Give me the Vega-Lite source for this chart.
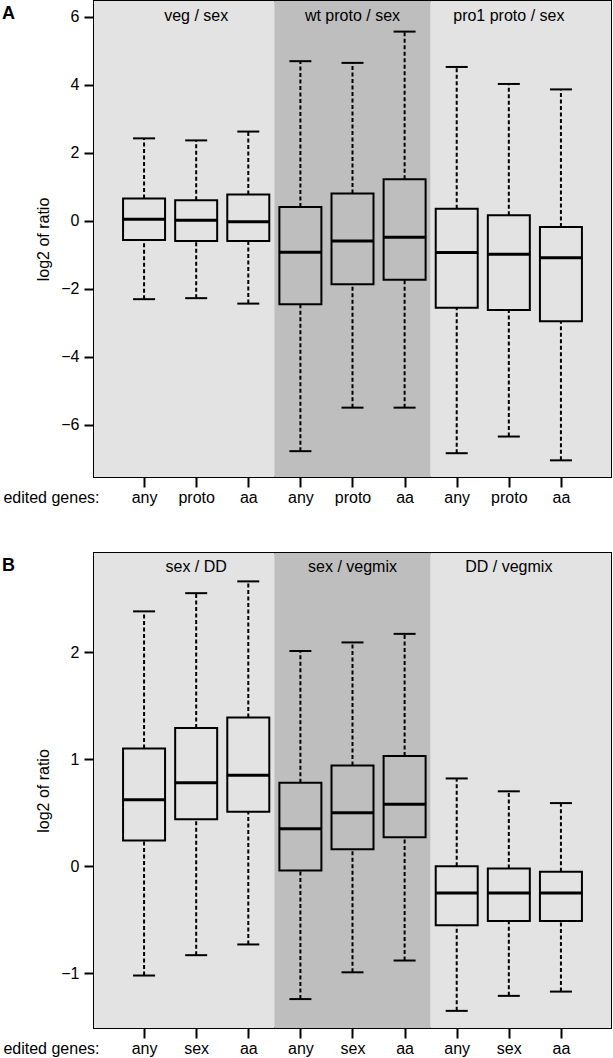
{
  "$schema": "https://vega.github.io/schema/vega-lite/v6.json",
  "padding": {"left": 1, "top": 0, "right": 0, "bottom": 0},
  "spacing": 46,
  "config": {
    "font": "Liberation Sans",
    "view": {"stroke": "black", "strokeWidth": 2},
    "axis": {"grid": false, "domain": false, "tickColor": "black", "tickWidth": 2, "tickSize": 10, "labelColor": "black", "labelFontSize": 16, "titleColor": "black", "titleFontSize": 16, "titleFontWeight": "normal", "labelFont": "Liberation Sans", "titleFont": "Liberation Sans"},
    "title": {"font": "Liberation Sans", "fontSize": 18, "fontWeight": "bold", "anchor": "start", "frame": "group", "color": "black"}
  },
  "datasets": {
    "boxA": [
      {"x": 1, "min": -2.30, "q1": -0.56, "med": 0.05, "q3": 0.66, "max": 2.43},
      {"x": 2, "min": -2.27, "q1": -0.59, "med": 0.02, "q3": 0.61, "max": 2.37},
      {"x": 3, "min": -2.43, "q1": -0.59, "med": -0.02, "q3": 0.78, "max": 2.63},
      {"x": 4, "min": -6.77, "q1": -2.45, "med": -0.92, "q3": 0.41, "max": 4.70},
      {"x": 5, "min": -5.49, "q1": -1.86, "med": -0.59, "q3": 0.81, "max": 4.65},
      {"x": 6, "min": -5.49, "q1": -1.73, "med": -0.48, "q3": 1.23, "max": 5.57},
      {"x": 7, "min": -6.83, "q1": -2.55, "med": -0.93, "q3": 0.36, "max": 4.53},
      {"x": 8, "min": -6.34, "q1": -2.62, "med": -0.98, "q3": 0.17, "max": 4.03},
      {"x": 9, "min": -7.04, "q1": -2.95, "med": -1.08, "q3": -0.18, "max": 3.87}
    ],
    "boxB": [
      {"x": 1, "min": -1.02, "q1": 0.24, "med": 0.62, "q3": 1.10, "max": 2.38},
      {"x": 2, "min": -0.83, "q1": 0.44, "med": 0.78, "q3": 1.29, "max": 2.55},
      {"x": 3, "min": -0.73, "q1": 0.51, "med": 0.85, "q3": 1.39, "max": 2.66},
      {"x": 4, "min": -1.24, "q1": -0.04, "med": 0.35, "q3": 0.78, "max": 2.01},
      {"x": 5, "min": -0.99, "q1": 0.16, "med": 0.50, "q3": 0.94, "max": 2.09},
      {"x": 6, "min": -0.88, "q1": 0.27, "med": 0.58, "q3": 1.03, "max": 2.17},
      {"x": 7, "min": -1.35, "q1": -0.55, "med": -0.25, "q3": 0.00, "max": 0.82},
      {"x": 8, "min": -1.21, "q1": -0.51, "med": -0.25, "q3": -0.02, "max": 0.70},
      {"x": 9, "min": -1.17, "q1": -0.51, "med": -0.25, "q3": -0.05, "max": 0.59}
    ],
    "regA": [
      {"from": 0, "to": 3.5, "mid": 2, "shade": "light", "label": "veg / sex"},
      {"from": 3.5, "to": 6.5, "mid": 5, "shade": "dark", "label": "wt proto / sex"},
      {"from": 6.5, "to": 10, "mid": 8, "shade": "light", "label": "pro1 proto / sex"}
    ],
    "regB": [
      {"from": 0, "to": 3.5, "mid": 2, "shade": "light", "label": "sex / DD"},
      {"from": 3.5, "to": 6.5, "mid": 5, "shade": "dark", "label": "sex / vegmix"},
      {"from": 6.5, "to": 10, "mid": 8, "shade": "light", "label": "DD / vegmix"}
    ]
  },
  "vconcat": [
    {
      "width": 517,
      "height": 476,
      "title": {"text": "A", "dx": -92, "offset": -22},
      "layer": [
        {
          "data": {"name": "regA"},
          "mark": {"type": "rect", "clip": true},
          "encoding": {
            "x": {"field": "from", "type": "quantitative", "scale": {"domain": [0.135, 9.865], "nice": false, "zero": false},
                  "axis": {"values": [1,2,3,4,5,6,7,8,9], "labelExpr": "['any','proto','aa'][(datum.value - 1) % 3]", "title": "edited genes:", "titleX": 5, "titleY": 20, "titleAlign": "right", "titleBaseline": "middle", "titleAnchor": null, "labelPadding": 2}},
            "x2": {"field": "to"},
            "fill": {"field": "shade", "type": "nominal", "scale": {"domain": ["light", "dark"], "range": ["#e3e3e3", "#bebebe"]}, "legend": null}
          }
        },
        {
          "data": {"name": "regA"},
          "mark": {"type": "text", "fontSize": 16, "color": "black", "baseline": "middle"},
          "encoding": {
            "x": {"field": "mid", "type": "quantitative"},
            "y": {"datum": 6.03, "type": "quantitative"},
            "text": {"field": "label"}
          }
        },
        {
          "data": {"name": "boxA"},
          "mark": {"type": "rule", "strokeWidth": 2, "strokeDash": [4, 2.5], "color": "black"},
          "encoding": {
            "x": {"field": "x", "type": "quantitative"},
            "y": {"field": "q3", "type": "quantitative", "scale": {"domain": [-7.53, 6.47], "nice": false, "zero": false},
                  "axis": {"values": [-6,-4,-2,0,2,4,6], "format": "d", "title": "log2 of ratio", "labelPadding": 5, "titlePadding": 9}},
            "y2": {"field": "max"}
          }
        },
        {
          "data": {"name": "boxA"},
          "mark": {"type": "rule", "strokeWidth": 2, "strokeDash": [4, 2.5], "color": "black"},
          "encoding": {
            "x": {"field": "x", "type": "quantitative"},
            "y": {"field": "min", "type": "quantitative"},
            "y2": {"field": "q1"}
          }
        },
        {
          "data": {"name": "boxA"},
          "mark": {"type": "tick", "orient": "horizontal", "size": 22, "thickness": 2, "color": "black", "opacity": 1},
          "encoding": {
            "x": {"field": "x", "type": "quantitative"},
            "y": {"field": "max", "type": "quantitative"}
          }
        },
        {
          "data": {"name": "boxA"},
          "mark": {"type": "tick", "orient": "horizontal", "size": 22, "thickness": 2, "color": "black", "opacity": 1},
          "encoding": {
            "x": {"field": "x", "type": "quantitative"},
            "y": {"field": "min", "type": "quantitative"}
          }
        },
        {
          "data": {"name": "boxA"},
          "mark": {"type": "bar", "size": 42, "fill": null, "fillOpacity": 0, "stroke": "black", "strokeWidth": 2},
          "encoding": {
            "x": {"field": "x", "type": "quantitative"},
            "y": {"field": "q1", "type": "quantitative"},
            "y2": {"field": "q3"}
          }
        },
        {
          "data": {"name": "boxA"},
          "mark": {"type": "tick", "orient": "horizontal", "size": 43, "thickness": 3, "color": "black", "opacity": 1},
          "encoding": {
            "x": {"field": "x", "type": "quantitative"},
            "y": {"field": "med", "type": "quantitative"}
          }
        }
      ]
    },
    {
      "width": 517,
      "height": 475,
      "title": {"text": "B", "dx": -92, "offset": -22},
      "layer": [
        {
          "data": {"name": "regB"},
          "mark": {"type": "rect", "clip": true},
          "encoding": {
            "x": {"field": "from", "type": "quantitative", "scale": {"domain": [0.135, 9.865], "nice": false, "zero": false},
                  "axis": {"values": [1,2,3,4,5,6,7,8,9], "labelExpr": "['any','sex','aa'][(datum.value - 1) % 3]", "title": "edited genes:", "titleX": 5, "titleY": 20, "titleAlign": "right", "titleBaseline": "middle", "titleAnchor": null, "labelPadding": 2}},
            "x2": {"field": "to"},
            "fill": {"field": "shade", "type": "nominal", "scale": {"domain": ["light", "dark"], "range": ["#e3e3e3", "#bebebe"]}, "legend": null}
          }
        },
        {
          "data": {"name": "regB"},
          "mark": {"type": "text", "fontSize": 16, "color": "black", "baseline": "middle"},
          "encoding": {
            "x": {"field": "mid", "type": "quantitative"},
            "y": {"datum": 2.79, "type": "quantitative"},
            "text": {"field": "label"}
          }
        },
        {
          "data": {"name": "boxB"},
          "mark": {"type": "rule", "strokeWidth": 2, "strokeDash": [4, 2.5], "color": "black"},
          "encoding": {
            "x": {"field": "x", "type": "quantitative"},
            "y": {"field": "q3", "type": "quantitative", "scale": {"domain": [-1.51, 2.925], "nice": false, "zero": false},
                  "axis": {"values": [-1,0,1,2], "format": "d", "title": "log2 of ratio", "labelPadding": 5, "titlePadding": 9}},
            "y2": {"field": "max"}
          }
        },
        {
          "data": {"name": "boxB"},
          "mark": {"type": "rule", "strokeWidth": 2, "strokeDash": [4, 2.5], "color": "black"},
          "encoding": {
            "x": {"field": "x", "type": "quantitative"},
            "y": {"field": "min", "type": "quantitative"},
            "y2": {"field": "q1"}
          }
        },
        {
          "data": {"name": "boxB"},
          "mark": {"type": "tick", "orient": "horizontal", "size": 22, "thickness": 2, "color": "black", "opacity": 1},
          "encoding": {
            "x": {"field": "x", "type": "quantitative"},
            "y": {"field": "max", "type": "quantitative"}
          }
        },
        {
          "data": {"name": "boxB"},
          "mark": {"type": "tick", "orient": "horizontal", "size": 22, "thickness": 2, "color": "black", "opacity": 1},
          "encoding": {
            "x": {"field": "x", "type": "quantitative"},
            "y": {"field": "min", "type": "quantitative"}
          }
        },
        {
          "data": {"name": "boxB"},
          "mark": {"type": "bar", "size": 42, "fill": null, "fillOpacity": 0, "stroke": "black", "strokeWidth": 2},
          "encoding": {
            "x": {"field": "x", "type": "quantitative"},
            "y": {"field": "q1", "type": "quantitative"},
            "y2": {"field": "q3"}
          }
        },
        {
          "data": {"name": "boxB"},
          "mark": {"type": "tick", "orient": "horizontal", "size": 43, "thickness": 3, "color": "black", "opacity": 1},
          "encoding": {
            "x": {"field": "x", "type": "quantitative"},
            "y": {"field": "med", "type": "quantitative"}
          }
        }
      ]
    }
  ]
}
